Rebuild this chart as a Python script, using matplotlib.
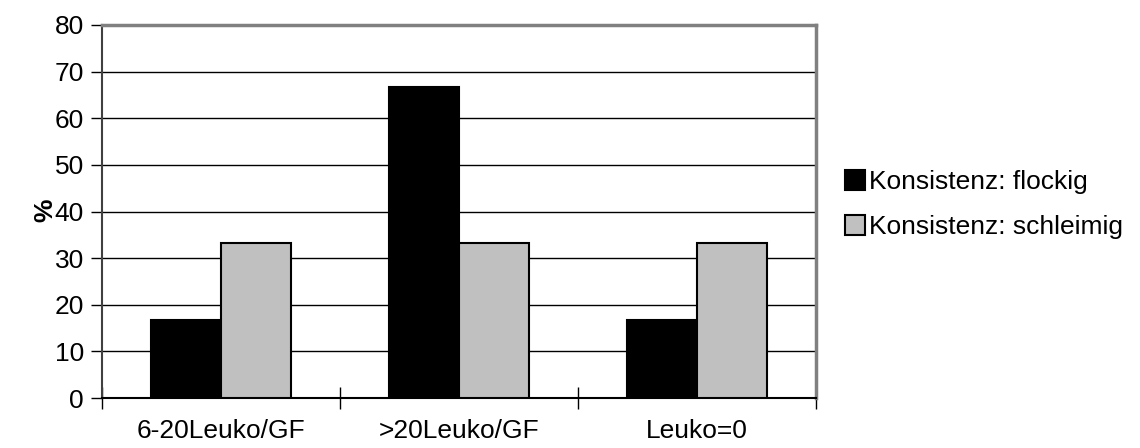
import numpy as np
import matplotlib.pyplot as plt
from matplotlib.patches import Patch

plt.rcParams['font.family'] = ['Liberation Sans', 'DejaVu Sans']

kategorien = ['6-20Leuko/GF', '>20Leuko/GF', 'Leuko=0']
flockig = [16.67, 66.67, 16.67]
schleimig = [33.33, 33.33, 33.33]
serien = ['Konsistenz: flockig', 'Konsistenz: schleimig']

fig = plt.figure(figsize=(11.4, 4.48), dpi=100)
ax = fig.add_axes([0.0895, 0.1116, 0.6263, 0.8326])

x = np.arange(len(kategorien))
w = 0.295
ax.bar(x - w / 2, flockig, w, color='black', edgecolor='black', linewidth=1.5, zorder=3)
ax.bar(x + w / 2, schleimig, w, color='#c0c0c0', edgecolor='black', linewidth=1.5, zorder=3)

ax.set_xlim(-0.5, 2.5)
ax.set_ylim(0, 80)
ax.set_yticks(range(0, 81, 10))
ax.yaxis.grid(True, color='black', linewidth=1, zorder=0)

# x ticks sit on the category boundaries, labels in the middle
ax.set_xticks([-0.5, 0.5, 1.5, 2.5])
ax.set_xticklabels([])
ax.set_xticks(x, minor=True)
ax.set_xticklabels(kategorien, minor=True, fontsize=19)
ax.tick_params(axis='x', which='minor', length=0, pad=15)
ax.tick_params(axis='x', which='major', direction='inout', length=16, width=1, color='black')
ax.tick_params(axis='y', direction='out', length=8, width=1, labelsize=19, pad=5)

for s in ['top', 'right']:
    ax.spines[s].set_color('#808080')
    ax.spines[s].set_linewidth(2.5)
ax.spines['left'].set_color('#404040')
ax.spines['left'].set_linewidth(1.5)
ax.spines['bottom'].set_color('black')
ax.spines['bottom'].set_linewidth(1.5)

fig.text(45 / 1140, 0.53, '%', fontsize=19, fontweight='bold', rotation=90,
         ha='center', va='center')

handles = [Patch(facecolor='black', edgecolor='black', linewidth=1.5),
           Patch(facecolor='#c0c0c0', edgecolor='black', linewidth=1.5)]
fig.legend(handles, serien, loc='center left', bbox_to_anchor=(0.732, 0.543),
           frameon=False, fontsize=19, handlelength=0.75, handleheight=0.75,
           handletextpad=0.15, labelspacing=0.8, borderaxespad=0)

fig.savefig('out.png', dpi=100)
